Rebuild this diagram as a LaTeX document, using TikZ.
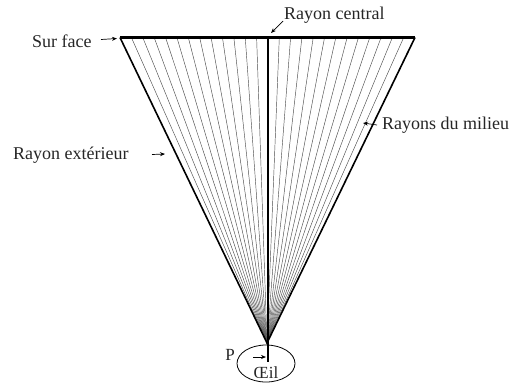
\documentclass[tikz,border=0pt]{standalone}
\usepackage{fontspec}
\setmainfont{Liberation Serif}
\usetikzlibrary{calc,shapes.geometric,arrows.meta}
\begin{document}
\begin{tikzpicture}[x=1pt,y=-1pt,
  lbl/.style={font=\fontsize{18}{20}\selectfont, inner sep=0pt, text=black!85},
  ray/.style={line width=0.45pt, black!70},
  edge/.style={line width=1.6pt},
  ptr/.style={-{Stealth[length=5pt,width=4pt]}, line width=0.7pt}]
\useasboundingbox (0,0) rectangle (516,391);
\coordinate (A) at (267,343);
\coordinate (L) at (120,37.5);
\coordinate (R) at (415,37.5);
\coordinate (C) at (268,37.5);
\coordinate (Cb) at (268,362);
% fan rays
\foreach \i in {1,...,12}{
  \draw[ray] (A) -- ($(L)!\i/13!(C)$);
  \draw[ray] (A) -- ($(R)!\i/13!(C)$);
}
\draw[edge] (L) -- (A) -- (R);
\draw[line width=2.2pt] (L) -- (R);
\draw[line width=1.6pt] (C) -- (Cb);
% eye
\node[draw, ellipse, line width=0.8pt, minimum width=58pt, minimum height=37pt, inner sep=0pt] (eye) at (266,363.5) {};
\node[lbl, font=\fontsize{17}{18}\selectfont] (oeil) at (266,373) {Œil};
\node[lbl, font=\fontsize{17}{18}\selectfont] (P) at (230,355) {P};
\coordinate (Pt) at (266,357);
\draw[ptr] (253,357) -- (Pt);
% labels
\node[lbl, anchor=west] (surf) at (32,41) {Sur face};
\coordinate (st) at (117,38.5);
\draw[ptr] (101,39.5) -- (st);
\node[lbl, anchor=west] (cent) at (284,15) {Rayon central};
\coordinate (ct) at (271,33);
\draw[ptr] (283,21) -- (ct);
\node[lbl, anchor=west] (ext) at (13,155) {Rayon extérieur};
\coordinate (et) at (165,154);
\draw[ptr] (152,154.5) -- (et);
\node[lbl, anchor=west] (mil) at (382,125) {Rayons du milieu};
\coordinate (mt) at (363,123);
\draw[ptr] (377,125) -- (mt);
\end{tikzpicture}
\end{document}
